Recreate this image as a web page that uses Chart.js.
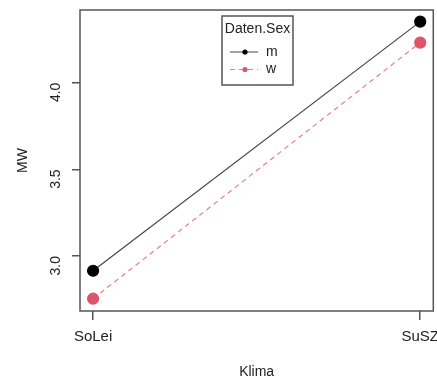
<!DOCTYPE html>
<html>
<head>
<meta charset="utf-8">
<script src="https://cdn.jsdelivr.net/npm/chart.js@4/dist/chart.umd.min.js"></script>
<style>
  html, body { margin: 0; padding: 0; background: #fff; overflow: hidden; }
  /* slightly wider than the window so the right frame sits near the edge */
  #wrap { width: 440px; height: 379px; }
</style>
</head>
<body>
<div id="wrap"><canvas id="interaction"></canvas></div>
<script>
// interaction plot: mean MW by Klima, one line per Daten.Sex
const categories = ['SoLei', 'SuSZ'];
const groups = ['m', 'w'];
const mValues = [2.915, 4.352];
const wValues = [2.754, 4.231];
const yTicks = [3.0, 3.5, 4.0];

const colors = ['#000000', '#DF536B'];
const lineColors = ['#444444', 'rgba(223, 83, 107, 0.75)'];
const family = '"Liberation Sans", Arial, sans-serif';
const font = { family: family, size: 14 };

function toPoints(values) {
    return values.map(function (v, i) { return { x: i + 1, y: v }; });
}

// frame round the plot region, category labels (allowed to run off the edge)
// and the boxed legend inside the plot
const boxPlugin = {
    id: 'rBox',
    afterDraw: function (chart) {
        const ctx = chart.ctx;
        const a = chart.chartArea;
        const xs = chart.scales.x;
        ctx.save();
        ctx.strokeStyle = '#555';
        ctx.lineWidth = 1.5;
        ctx.strokeRect(a.left, a.top, a.right - a.left, a.bottom - a.top);

        ctx.font = '15px ' + family;
        ctx.fillStyle = '#222';
        ctx.textAlign = 'center';
        ctx.textBaseline = 'middle';
        categories.forEach(function (c, i) {
            ctx.fillText(c, xs.getPixelForValue(i + 1), a.bottom + 26);
        });

        // legend
        const lx = 222, ly = 16, lw = 71, lh = 69;
        ctx.fillStyle = '#fff';
        ctx.fillRect(lx, ly, lw, lh);
        ctx.strokeRect(lx, ly, lw, lh);
        ctx.font = font.size + 'px ' + family;
        ctx.fillStyle = '#222';
        ctx.fillText('Daten.Sex', lx + lw / 2, 29);
        chart.data.datasets.forEach(function (ds, i) {
            const y = 52 + i * 17.5;
            ctx.strokeStyle = ds.borderColor;
            ctx.lineWidth = 1;
            ctx.setLineDash(ds.borderDash || []);
            ctx.beginPath();
            ctx.moveTo(230, y);
            ctx.lineTo(258, y);
            ctx.stroke();
            ctx.setLineDash([]);
            ctx.fillStyle = ds.pointBackgroundColor;
            ctx.beginPath();
            ctx.arc(245, y, 2.6, 0, Math.PI * 2);
            ctx.fill();
            ctx.fillStyle = '#222';
            ctx.textAlign = 'left';
            ctx.fillText(ds.label, 266, y);
        });
        ctx.restore();
    }
};

new Chart(document.getElementById('interaction'), {
    type: 'line',
    data: {
        datasets: [
            {
                label: groups[0],
                data: toPoints(mValues),
                borderColor: lineColors[0],
                borderWidth: 1.2,
                pointBackgroundColor: colors[0],
                pointBorderColor: colors[0],
                pointRadius: 5.5,
            },
            {
                label: groups[1],
                data: toPoints(wValues),
                borderColor: lineColors[1],
                borderWidth: 1.2,
                borderDash: [5, 4],
                pointBackgroundColor: colors[1],
                pointBorderColor: colors[1],
                pointRadius: 5.5,
            },
        ],
    },
    options: {
        responsive: true,
        maintainAspectRatio: false,
        animation: false,
        layout: { padding: { top: 10, right: 2, left: 0, bottom: 0 } },
        plugins: {
            legend: { display: false },
            tooltip: { enabled: false },
        },
        scales: {
            x: {
                type: 'linear',
                min: 0.96,
                max: 2.04,
                afterBuildTicks: function (scale) {
                    scale.ticks = categories.map(function (c, i) { return { value: i + 1 }; });
                },
                afterFit: function (scale) { scale.height = 68; },
                ticks: { display: false },
                grid: { drawOnChartArea: false, tickLength: 9, color: '#555', lineWidth: 1.5 },
                border: { display: false },
                title: { display: true, text: 'Klima', color: '#222', font: font, padding: { top: 0, bottom: -2 } },
            },
            y: {
                min: 2.683,
                max: 4.419,
                afterBuildTicks: function (scale) {
                    scale.ticks = yTicks.map(function (v) { return { value: v }; });
                },
                afterFit: function (scale) {
                    scale.width = 80;
                    scale.paddingTop = 0;
                    scale.paddingBottom = 0;
                },
                ticks: {
                    color: '#222',
                    font: font,
                    padding: 16,
                    minRotation: 90,
                    maxRotation: 90,
                    callback: function (value) { return value.toFixed(1); },
                },
                grid: { drawOnChartArea: false, tickLength: 8, color: '#555', lineWidth: 1.5 },
                border: { display: false },
                title: { display: true, text: 'MW', color: '#222', font: font, padding: { top: 15, bottom: 0 } },
            },
        },
    },
    plugins: [boxPlugin],
});
</script>
</body>
</html>
